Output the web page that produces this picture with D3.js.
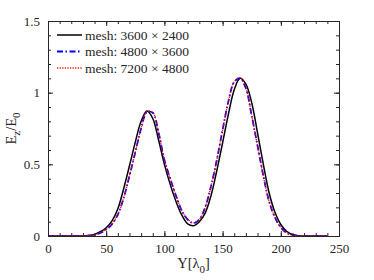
<!DOCTYPE html>
<html><head><meta charset="utf-8">
<script src="https://cdn.jsdelivr.net/npm/d3@7"></script>
<style>html,body{margin:0;padding:0;background:#fff;}svg{display:block;}</style>
</head><body>
<svg id="c" width="374" height="280"></svg>
<script>
const yPos = [0,5,10,15,20,25,30,35,40,45,50,55,60,65,70,75,80,85,90,95,100,105,110,115,120,125,130,135,140,145,150,155,160,165,170,175,180,185,190,195,200,205,210,215,220,225,230,235,240];
const mesh1 = [0,0,0,0,0,0,0,0.003,0.011,0.03,0.058,0.105,0.19,0.33,0.49,0.655,0.80,0.872,0.82,0.67,0.50,0.36,0.24,0.145,0.085,0.072,0.10,0.16,0.28,0.455,0.65,0.85,1.02,1.10,1.06,0.93,0.72,0.50,0.30,0.165,0.08,0.033,0.01,0.002,0,0,0,0,0];
const mesh2 = [0,0,0,0,0,0,0,0.002,0.008,0.022,0.045,0.083,0.15,0.265,0.42,0.585,0.75,0.865,0.86,0.72,0.53,0.40,0.28,0.175,0.115,0.09,0.115,0.20,0.345,0.53,0.74,0.94,1.075,1.10,1.03,0.84,0.63,0.42,0.24,0.13,0.06,0.022,0.006,0.001,0,0,0,0,0];
const mesh3 = [0,0,0,0,0,0,0,0.002,0.008,0.022,0.046,0.084,0.15,0.265,0.42,0.585,0.752,0.868,0.862,0.722,0.532,0.402,0.282,0.177,0.117,0.092,0.117,0.20,0.345,0.53,0.74,0.94,1.077,1.105,1.03,0.84,0.63,0.42,0.24,0.13,0.06,0.022,0.006,0.001,0,0,0,0,0];
const seriesNames = ["mesh: 3600 \u00d7 2400","mesh: 4800 \u00d7 3600","mesh: 7200 \u00d7 4800"];
const xTicks = [0,50,100,150,200,250];
const yTicks = [0,0.5,1,1.5];
const yTickLabels = ["0","0.5","1","1.5"];

const svg = d3.select("#c");
const L=48,R=339,T=21,B=236;
const x = d3.scaleLinear().domain([0,250]).range([L,R]);
const y = d3.scaleLinear().domain([0,1.5]).range([B,T]);
const font = "'Liberation Serif','Times New Roman',serif";
const axCol = "#262626";

const gPlot = svg.append("g");
gPlot.append("defs").append("clipPath").attr("id","clip").append("rect")
  .attr("x",L).attr("y",T).attr("width",R-L).attr("height",B-T);

const styles = [
  {color:"#000000", w:1.5, dash:null},
  {color:"#0000ff", w:1.8, dash:"6,2.5,1.5,2.5"},
  {color:"#ff0000", w:1.3, dash:"1.2,1.4"}
];
const data = [mesh1, mesh2, mesh3];
const line = d3.line().x((d,i)=>x(yPos[i])).y(d=>y(d)).curve(d3.curveCatmullRom.alpha(0.5));
data.forEach((s,k)=>{
  gPlot.append("path").attr("d",line(s)).attr("fill","none")
    .attr("stroke",styles[k].color).attr("stroke-width",styles[k].w)
    .attr("stroke-dasharray",styles[k].dash).attr("clip-path","url(#clip)");
});

// axes
const xMinor = d3.range(0,251,10);
const yMinor = d3.range(0,1.501,0.1);
const gx = svg.append("g").attr("transform",`translate(0,${B})`)
  .call(d3.axisBottom(x).tickValues(xTicks).tickSize(-5).tickPadding(8).tickFormat(d3.format("d")));
const gx2 = svg.append("g").attr("transform",`translate(0,${B})`)
  .call(d3.axisBottom(x).tickValues(xMinor).tickSize(-3).tickFormat(""));
const gxt = svg.append("g").attr("transform",`translate(0,${T})`)
  .call(d3.axisTop(x).tickValues(xTicks).tickSize(-5).tickFormat(""));
const gxt2 = svg.append("g").attr("transform",`translate(0,${T})`)
  .call(d3.axisTop(x).tickValues(xMinor).tickSize(-3).tickFormat(""));
const gy = svg.append("g").attr("transform",`translate(${L},0)`)
  .call(d3.axisLeft(y).tickValues(yTicks).tickSize(-5).tickPadding(8).tickFormat((d,i)=>yTickLabels[i]));
const gy2 = svg.append("g").attr("transform",`translate(${L},0)`)
  .call(d3.axisLeft(y).tickValues(yMinor).tickSize(-3).tickFormat(""));
const gyr = svg.append("g").attr("transform",`translate(${R},0)`)
  .call(d3.axisRight(y).tickValues(yTicks).tickSize(-5).tickFormat(""));
const gyr2 = svg.append("g").attr("transform",`translate(${R},0)`)
  .call(d3.axisRight(y).tickValues(yMinor).tickSize(-3).tickFormat(""));
[gx,gx2,gxt,gxt2,gy,gy2,gyr,gyr2].forEach(g=>{
  g.selectAll("path.domain").attr("stroke",axCol).attr("stroke-width",1);
  g.selectAll(".tick line").attr("stroke",axCol).attr("stroke-width",1);
  g.selectAll("text").attr("fill",axCol).style("font-family",font).style("font-size","13px");
});

// axis labels
const xl = svg.append("text").attr("x",(L+R)/2).attr("y",268).attr("text-anchor","middle")
  .attr("fill",axCol).style("font-family",font).style("font-size","14.5px");
xl.append("tspan").text("Y[\u03bb");
xl.append("tspan").text("0").attr("font-size","11px").attr("dy",5);
xl.append("tspan").text("]").attr("dy",-5);

const yl = svg.append("text").attr("transform",`translate(16,${(T+B)/2}) rotate(-90)`).attr("text-anchor","middle")
  .attr("fill",axCol).style("font-family",font).style("font-size","14.5px");
yl.append("tspan").text("E");
yl.append("tspan").text("z").attr("font-size","11px").attr("dy",4);
yl.append("tspan").text("/E").attr("dy",-4);
yl.append("tspan").text("0").attr("font-size","11px").attr("dy",4);

// legend
const legY = [35,51.5,68];
seriesNames.forEach((n,k)=>{
  svg.append("line").attr("x1",57).attr("x2",82).attr("y1",legY[k]).attr("y2",legY[k])
    .attr("stroke",styles[k].color).attr("stroke-width",styles[k].w).attr("stroke-dasharray",styles[k].dash);
  svg.append("text").attr("x",85).attr("y",legY[k]+4.5).attr("fill",axCol)
    .style("font-family",font).style("font-size","13.5px").text(n);
});
</script>
</body></html>
